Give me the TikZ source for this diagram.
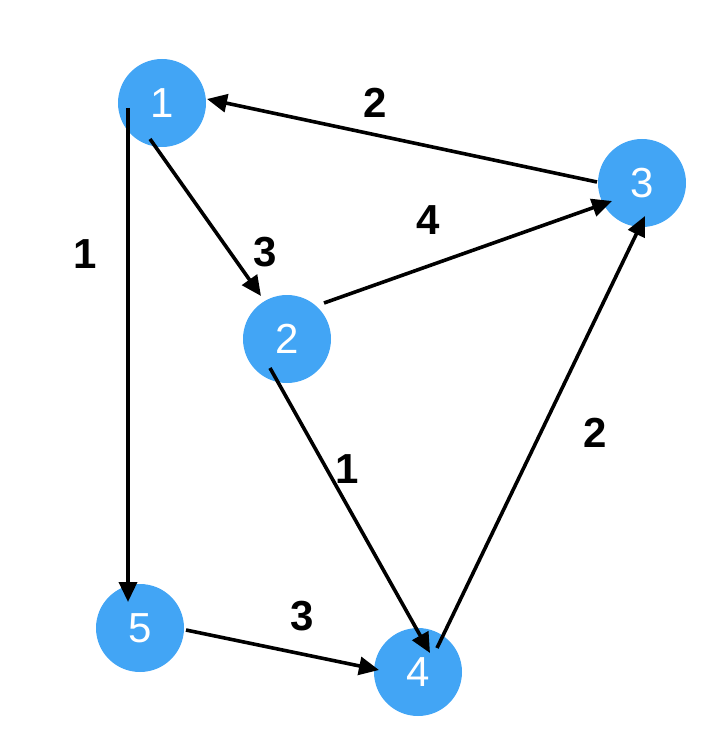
\documentclass[tikz,border=0pt]{standalone}
\usepackage{fontspec}
\setmainfont{Liberation Sans}
\usetikzlibrary{arrows.meta}
\definecolor{nodeblue}{HTML}{42A5F5}
\tikzset{
  vert/.style={circle, fill=nodeblue, minimum size=88pt, inner sep=0pt, text=white, font=\fontsize{42}{42}\selectfont},
  wlabel/.style={inner sep=0pt, text=black, font=\fontsize{42}{42}\selectfont\bfseries},
  edge/.style={line width=3.6pt, -{Triangle[length=20pt,width=18pt]}}
}
\begin{document}
\begin{tikzpicture}[x=1pt,y=-1pt]
\useasboundingbox (0,0) rectangle (726,746);
\node[vert] (n1) at (162,103) {1};
\node[vert] (n2) at (287,339) {2};
\node[vert] (n3) at (642,183) {3};
\node[vert] (n4) at (418,672) {4};
\node[vert] (n5) at (140,628) {5};

\draw[edge] ([shift={(-34,5)}]n1.center) -- ([shift={(-12,-26)}]n5.center);
\draw[edge] ([shift={(-12,36)}]n1.center) -- ([shift={(-26,-43)}]n2.center);
\draw[edge] ([shift={(-45,-1)}]n3.center) -- ([shift={(45,-4)}]n1.center);
\draw[edge] ([shift={(37,-36)}]n2.center) -- ([shift={(-30,18)}]n3.center);
\draw[edge] ([shift={(-17,29)}]n2.center) -- ([shift={(12,-19)}]n4.center);
\draw[edge] ([shift={(19,-24)}]n4.center) -- ([shift={(3,33)}]n3.center);
\draw[edge] ([shift={(46,2)}]n5.center) -- ([shift={(-39,-2)}]n4.center);

\node[wlabel] (l31) at (375,103) {2};
\node[wlabel] (l23) at (428,220) {4};
\node[wlabel] (l12) at (265,252) {3};
\node[wlabel] (l15) at (85,254) {1};
\node[wlabel] (l24) at (347,469) {1};
\node[wlabel] (l43) at (595,433) {2};
\node[wlabel] (l54) at (302,616) {3};
\end{tikzpicture}
\end{document}
